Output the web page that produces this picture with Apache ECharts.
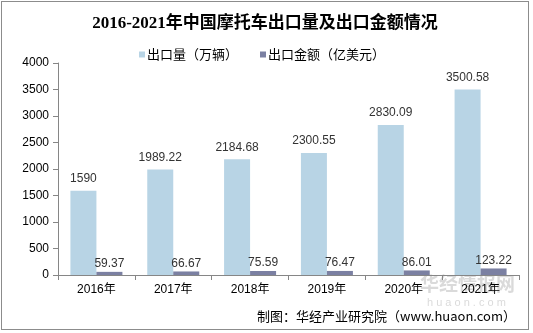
<!DOCTYPE html>
<html><head><meta charset="utf-8">
<script src="https://cdn.jsdelivr.net/npm/echarts@6/dist/echarts.min.js"></script>
<style>
html,body{margin:0;padding:0;background:#fff;}
#c{position:absolute;left:1px;top:1px;width:528px;height:329px;border:1px solid #8c8c8c;box-sizing:border-box;}
</style></head><body>
<div id="c"></div>
<script>
var categories = ['2016年','2017年','2018年','2019年','2020年','2021年'];
var exportVolume = [1590, 1989.22, 2184.68, 2300.55, 2830.09, 3500.58];
var exportValue = [59.37, 66.67, 75.59, 76.47, 86.01, 123.22];
var seriesNames = ['出口量（万辆）', '出口金额（亿美元）'];
var yTicks = {min: 0, max: 4000, interval: 500};

var chart = echarts.init(document.getElementById('c'), null, {renderer: 'canvas'});
function lbl(d) {
  return {show: true, position: 'top', color: '#333', fontSize: 12, fontFamily: 'Liberation Sans, Arial, sans-serif', distance: d};
}
chart.setOption({
  animation: false,
  title: {
    text: '2016-2021年中国摩托车出口量及出口金额情况',
    left: 'center', top: 8,
    textStyle: {fontSize: 17, fontWeight: 'bold', color: '#000', fontFamily: 'Liberation Serif, "Noto Sans CJK SC", serif'}
  },
  legend: {
    data: seriesNames, left: 132, top: 41, itemWidth: 6, itemHeight: 6, itemGap: 22,
    icon: 'rect',
    textStyle: {fontSize: 13, color: '#000', fontFamily: '"Noto Sans CJK SC", sans-serif', padding: [0,0,0,-3]}
  },
  grid: {left: 56, right: 9, top: 61, bottom: 54},
  xAxis: {
    type: 'category', data: categories,
    axisLine: {lineStyle: {color: '#868686'}},
    axisTick: {show: true, length: 5, lineStyle: {color: '#868686'}},
    axisLabel: {color: '#000', fontSize: 12, margin: 9, fontFamily: 'Liberation Sans, "Noto Sans CJK SC", sans-serif'}
  },
  yAxis: {
    type: 'value', min: yTicks.min, max: yTicks.max, interval: yTicks.interval,
    axisLine: {show: true, lineStyle: {color: '#868686'}},
    axisTick: {show: true, length: 5, lineStyle: {color: '#868686'}},
    splitLine: {show: false},
    axisLabel: {color: '#000', fontSize: 12, margin: 9, fontFamily: 'Liberation Sans, Arial, sans-serif',
      formatter: function (v) { return String(v); }}
  },
  series: [
    {name: seriesNames[0], type: 'bar', data: exportVolume, barWidth: 26, barGap: '0%',
     itemStyle: {color: '#b8d4e5'}, label: lbl(6)},
    {name: seriesNames[1], type: 'bar', data: exportValue, barWidth: 26,
     itemStyle: {color: '#7b80a2'}, label: lbl(2)}
  ],
  graphic: [
    {type: 'text', right: 12, bottom: 6, style: {text: '制图：华经产业研究院（www.huaon.com）', fontSize: 13, fill: '#000', fontFamily: '"Noto Sans CJK SC", sans-serif'}},
    {type: 'text', left: 418, top: 272, silent: true, style: {text: '华经情报网', fontSize: 19, fontWeight: 'bold', fill: 'rgba(150,150,150,0.35)', fontFamily: '"Noto Sans CJK SC", sans-serif'}},
    {type: 'text', left: 425, top: 295, silent: true, style: {text: 'h u a o n . c o m', fontSize: 11, fill: 'rgba(150,150,150,0.35)', fontFamily: 'Liberation Sans, sans-serif'}}
  ]
});
</script>
</body></html>
